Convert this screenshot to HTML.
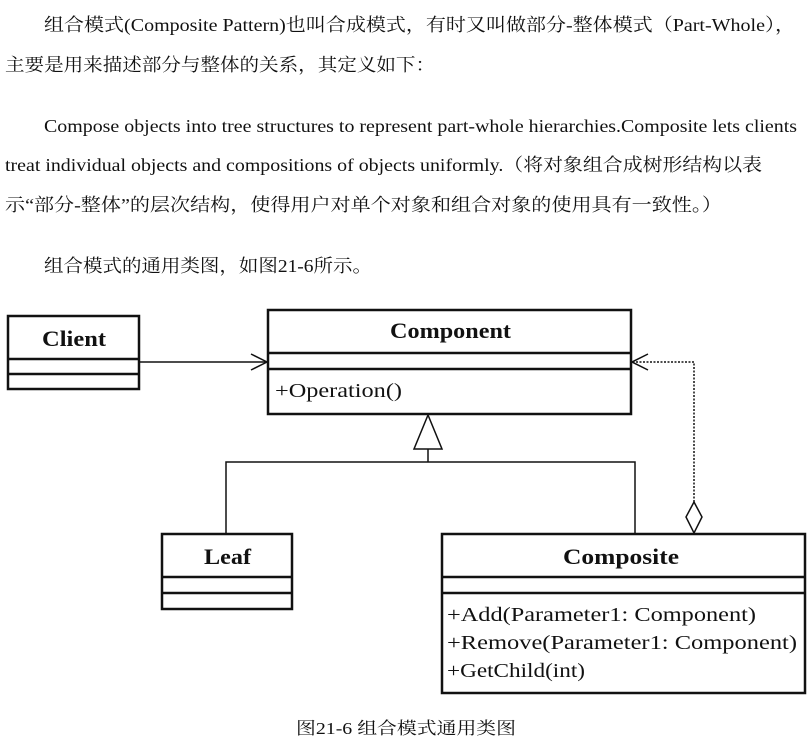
<!DOCTYPE html>
<html><head><meta charset="utf-8"><style>
html,body{margin:0;padding:0;background:#fff;}
svg{display:block}
text{font-family:"Liberation Serif","Noto Serif CJK SC",serif;fill:#111}
</style></head><body>
<svg width="810" height="756" viewBox="0 0 810 756" xmlns="http://www.w3.org/2000/svg">
<g font-size="18">
<text x="44" y="31" textLength="751" lengthAdjust="spacingAndGlyphs">组合模式(Composite Pattern)也叫合成模式，有时又叫做部分-整体模式（Part-Whole），</text>
<text x="5" y="71" textLength="430" lengthAdjust="spacingAndGlyphs">主要是用来描述部分与整体的关系，其定义如下：</text>
<text x="44" y="132" textLength="753" lengthAdjust="spacingAndGlyphs">Compose objects into tree structures to represent part-whole hierarchies.Composite lets clients</text>
<text x="5" y="171" textLength="757" lengthAdjust="spacingAndGlyphs">treat individual objects and compositions of objects uniformly.（将对象组合成树形结构以表</text>
<text x="5" y="211" textLength="717" lengthAdjust="spacingAndGlyphs">示“部分-整体”的层次结构，使得用户对单个对象和组合对象的使用具有一致性。）</text>
<text x="44" y="272" textLength="328" lengthAdjust="spacingAndGlyphs">组合模式的通用类图，如图21-6所示。</text>
</g>
<g fill="none" stroke="#111" stroke-width="2.5">
<rect x="8" y="316" width="131" height="73"/>
<line x1="8" y1="359" x2="139" y2="359"/>
<line x1="8" y1="374" x2="139" y2="374"/>
<rect x="268" y="310" width="363" height="104"/>
<line x1="268" y1="353" x2="631" y2="353"/>
<line x1="268" y1="369" x2="631" y2="369"/>
<rect x="162" y="534" width="130" height="75"/>
<line x1="162" y1="577" x2="292" y2="577"/>
<line x1="162" y1="593" x2="292" y2="593"/>
<rect x="442" y="534" width="363" height="159"/>
<line x1="442" y1="577" x2="805" y2="577"/>
<line x1="442" y1="593" x2="805" y2="593"/>
</g>
<g fill="none" stroke="#111" stroke-width="1.5">
<line x1="139" y1="362" x2="267" y2="362"/>
<polyline points="251,354 267,362 251,370"/>
<polygon points="428,415 414,449 442,449" fill="#fff"/>
<line x1="428" y1="449" x2="428" y2="462"/>
<polyline points="226,534 226,462 635,462 635,534"/>
<polyline points="694,502 694,362 633,362" stroke-dasharray="2,1.5"/>
<polyline points="648,354 632,362 648,370"/>
<polygon points="694,502 702,517 694,533 686,517" fill="#fff"/>
</g>
<g font-weight="bold" font-size="22">
<text x="42" y="346" textLength="64" lengthAdjust="spacingAndGlyphs">Client</text>
<text x="390" y="338" textLength="121" lengthAdjust="spacingAndGlyphs">Component</text>
<text x="204" y="564" textLength="47" lengthAdjust="spacingAndGlyphs">Leaf</text>
<text x="563" y="564" textLength="116" lengthAdjust="spacingAndGlyphs">Composite</text>
</g>
<g font-size="20">
<text x="275" y="397" textLength="127" lengthAdjust="spacingAndGlyphs">+Operation()</text>
<text x="447" y="621" textLength="309" lengthAdjust="spacingAndGlyphs">+Add(Parameter1: Component)</text>
<text x="447" y="649" textLength="350" lengthAdjust="spacingAndGlyphs">+Remove(Parameter1: Component)</text>
<text x="447" y="677" textLength="138" lengthAdjust="spacingAndGlyphs">+GetChild(int)</text>
</g>
<text x="296" y="734" font-size="17" textLength="220" lengthAdjust="spacingAndGlyphs">图21-6 组合模式通用类图</text>
</svg>
</body></html>
